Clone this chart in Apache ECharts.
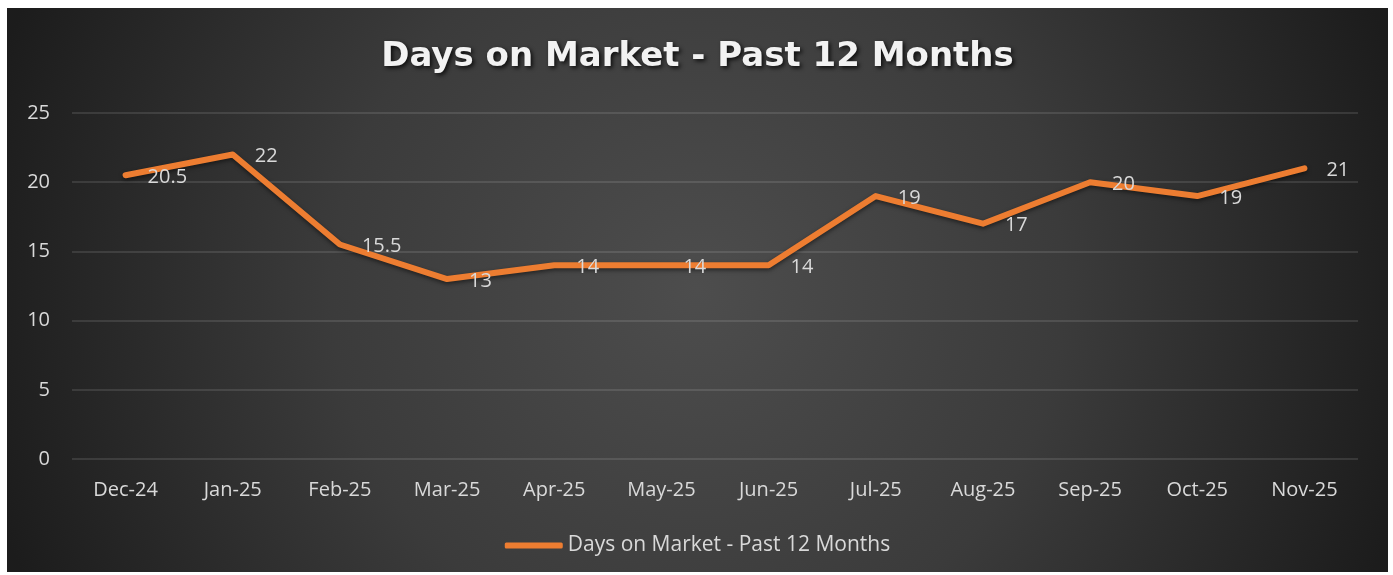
<!DOCTYPE html>
<html>
<head>
<meta charset="utf-8">
<script src="https://cdn.jsdelivr.net/npm/echarts@6/dist/echarts.min.js"></script>
<style>
  html, body { margin: 0; padding: 0; background: #fff; }
  #chart { position: absolute; left: 7px; top: 8px; width: 1381px; height: 564px; }
</style>
</head>
<body>
<div id="chart"></div>
<script>
  // chart data
  var months = ['Dec-24', 'Jan-25', 'Feb-25', 'Mar-25', 'Apr-25', 'May-25', 'Jun-25', 'Jul-25', 'Aug-25', 'Sep-25', 'Oct-25', 'Nov-25'];
  var daysOnMarket = [20.5, 22, 15.5, 13, 14, 14, 14, 19, 17, 20, 19, 21];
  var seriesName = 'Days on Market - Past 12 Months';
  var chartTitle = 'Days on Market - Past 12 Months';

  var myChart = echarts.init(document.getElementById('chart'));
  var option = {
    backgroundColor: {
      type: 'radial', x: 0.5, y: 0.5, r: 1.3,
      colorStops: [
        { offset: 0, color: '#4d4d4d' },
        { offset: 0.5, color: '#3b3b3b' },
        { offset: 1, color: '#1c1c1c' }
      ]
    },
    title: {
      text: chartTitle,
      left: 'center',
      top: 27,
      textStyle: {
        color: '#f2f2f2',
        fontFamily: 'DejaVu Sans',
        fontWeight: 'bold',
        fontSize: 34,
        textShadowColor: 'rgba(0,0,0,0.8)',
        textShadowBlur: 4,
        textShadowOffsetX: 2,
        textShadowOffsetY: 2
      }
    },
    legend: {
      data: [seriesName],
      top: 522,
      left: 'center',
      itemWidth: 58,
      itemHeight: 6,
      itemGap: 4,
      icon: 'roundRect',
      textStyle: { color: '#d9d9d9', fontSize: 21, fontFamily: 'Open Sans' }
    },
    grid: { left: 65, right: 30, top: 105, bottom: 113 },
    xAxis: {
      type: 'category',
      data: months,
      boundaryGap: true,
      axisLine: { show: false },
      axisTick: { show: false },
      axisLabel: { color: '#d9d9d9', fontSize: 20, margin: 21, fontFamily: 'Open Sans' }
    },
    yAxis: {
      type: 'value',
      min: 0,
      max: 25,
      interval: 5,
      axisLine: { show: false },
      axisTick: { show: false },
      splitLine: { lineStyle: { color: 'rgba(255,255,255,0.15)', width: 1.5 } },
      axisLabel: { color: '#d9d9d9', fontSize: 20, margin: 22, fontFamily: 'Open Sans' }
    },
    series: [{
      name: seriesName,
      type: 'line',
      data: daysOnMarket,
      symbol: 'circle',
      symbolSize: 2,
      lineStyle: {
        color: '#ED7D31',
        width: 6,
        cap: 'round',
        join: 'round',
        shadowColor: 'rgba(0,0,0,0.5)',
        shadowBlur: 4,
        shadowOffsetY: 2
      },
      itemStyle: { color: '#ED7D31' },
      label: {
        show: true,
        position: 'right',
        distance: 21,
        offset: [0, 2],
        color: '#d9d9d9',
        fontSize: 20,
        fontFamily: 'Open Sans'
      }
    }]
  };
  myChart.setOption(option);
</script>
</body>
</html>
